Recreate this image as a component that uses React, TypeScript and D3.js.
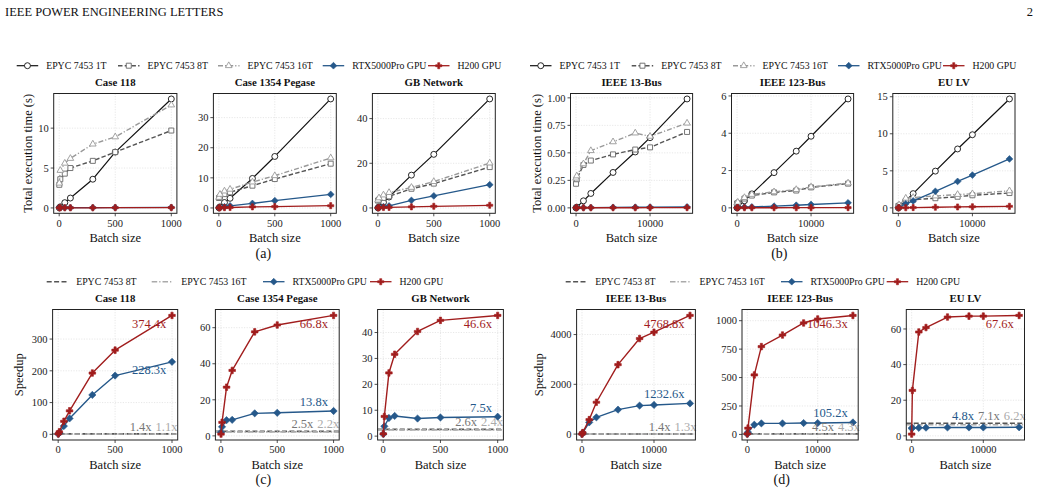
import React, { useRef, useEffect } from "react";
import * as d3 from "d3";

// batch sizes
const batchesTx = [1, 10, 50, 100, 300, 500, 1000];
const batchesDist = [1, 100, 1000, 2000, 5000, 8000, 10000, 15000];

const txTicks = [0, 500, 1000];
const distTicks = [0, 10000];

// total execution time (s): transmission cases
const case118Cpu1T = [0.015, 0.14, 0.66, 1.24, 3.6, 7.0, 13.66];
const case118Cpu8T = [2.9, 3.6, 4.3, 5.0, 5.9, 7.0, 9.7];
const case118Cpu16T = [3.1, 4.7, 5.6, 6.2, 8.0, 8.9, 12.9];
const case118Rtx = [0.02, 0.03, 0.03, 0.03, 0.04, 0.05, 0.06];
const case118H200 = [0.01, 0.02, 0.02, 0.02, 0.02, 0.03, 0.04];

const pegaseCpu1T = [0.04, 0.36, 1.8, 3.2, 9.8, 17.1, 36.2];
const pegaseCpu8T = [3.3, 3.6, 4.6, 5.2, 7.4, 9.6, 14.7];
const pegaseCpu16T = [3.5, 4.5, 5.6, 6.2, 8.6, 10.7, 16.6];
const pegaseRtx = [0.05, 0.1, 0.4, 0.7, 1.5, 2.4, 4.5];
const pegaseH200 = [0.03, 0.05, 0.1, 0.15, 0.35, 0.45, 0.75];

const gbCpu1T = [0.05, 0.5, 2.5, 4.9, 14.7, 24.0, 48.8];
const gbCpu8T = [3.3, 3.7, 4.5, 5.2, 8.6, 10.9, 18.3];
const gbCpu16T = [3.5, 4.5, 5.8, 6.9, 9.2, 11.8, 20.1];
const gbRtx = [0.05, 0.2, 0.6, 0.9, 3.4, 5.4, 10.4];
const gbH200 = [0.05, 0.1, 0.2, 0.25, 0.5, 0.75, 1.2];

// total execution time (s): distribution feeders
const bus13Cpu1T = [0.0001, 0.0066, 0.064, 0.131, 0.322, 0.508, 0.638, 0.99];
const bus13Cpu8T = [0.219, 0.26, 0.39, 0.43, 0.486, 0.53, 0.55, 0.69];
const bus13Cpu16T = [0.27, 0.29, 0.4, 0.52, 0.6, 0.68, 0.65, 0.77];
const bus13Rtx = [0.002, 0.002, 0.003, 0.003, 0.005, 0.006, 0.007, 0.009];
const bus13H200 = [0.001, 0.001, 0.001, 0.001, 0.001, 0.001, 0.002, 0.002];

const bus123Cpu1T = [0.0004, 0.04, 0.38, 0.75, 1.89, 3.04, 3.84, 5.84];
const bus123Cpu8T = [0.23, 0.26, 0.5, 0.66, 0.83, 0.93, 1.1, 1.3];
const bus123Cpu16T = [0.27, 0.3, 0.55, 0.72, 0.86, 0.98, 1.12, 1.33];
const bus123Rtx = [0.01, 0.02, 0.04, 0.05, 0.09, 0.14, 0.18, 0.27];
const bus123H200 = [0.004, 0.005, 0.006, 0.006, 0.007, 0.008, 0.009, 0.012];

const euLvCpu1T = [0.001, 0.1, 0.97, 1.92, 4.96, 7.95, 9.87, 14.7];
const euLvCpu8T = [0.25, 0.3, 0.9, 1.1, 1.3, 1.5, 1.7, 2.0];
const euLvCpu16T = [0.3, 0.4, 1.3, 1.4, 1.6, 1.8, 1.9, 2.3];
const euLvRtx = [0.01, 0.05, 0.55, 0.94, 2.23, 3.57, 4.42, 6.6];
const euLvH200 = [0.005, 0.01, 0.02, 0.04, 0.08, 0.12, 0.15, 0.21];

// speedup over EPYC 7453 1T
const case118SpRtx = [0.8, 5, 26, 50, 124, 185, 228.3];
const case118SpH200 = [1.5, 8, 41, 74, 193, 265, 374.4];
const case118SpCpu = [1.4, 1.1]; // 8T, 16T at largest batch

const pegaseSpRtx = [2.0, 5.0, 8.7, 8.9, 12.5, 12.8, 13.8];
const pegaseSpH200 = [1.0, 7.5, 27, 36.3, 57.7, 61.5, 66.8];
const pegaseSpCpu = [2.5, 2.2];

const gbSpRtx = [0.8, 3.8, 7.0, 7.8, 6.8, 7.2, 7.5];
const gbSpH200 = [0.9, 7.6, 24.4, 31.6, 40.4, 44.7, 46.6];
const gbSpCpu = [2.6, 2.4];

const bus13SpRtx = [1, 50, 470, 673, 983, 1145, 1172, 1232.6];
const bus13SpH200 = [1, 60, 580, 1280, 2790, 3840, 4094, 4768.8];
const bus13SpCpu = [1.4, 1.3];

const bus123SpRtx = [3, 20, 85, 97, 97, 100, 100, 105.2];
const bus123SpH200 = [5, 55, 523, 772, 874, 980, 1015, 1046.3];
const bus123SpCpu = [4.5, 4.3];

const euLvSpRtx = [4.2, 4.5, 4.5, 4.6, 4.7, 4.7, 4.7, 4.8];
const euLvSpH200 = [1, 25.5, 58.3, 60.8, 66.7, 67.2, 67.2, 67.6];
const euLvSpCpu = [7.1, 6.2];

const seriesNames = ["EPYC 7453 1T", "EPYC 7453 8T", "EPYC 7453 16T", "RTX5000Pro GPU", "H200 GPU"];

const FONT = "'Liberation Serif', 'Times New Roman', serif";
const BLUE = "#25588a";
const RED = "#a11d1d";

type Style = {
  color: string;
  width: number;
  dash: string | null;
  marker: string | null;
  hollow: boolean;
  edge: string;
};

const lineStyles: Style[] = [
  { color: "#111", width: 1.2, dash: null, marker: "circle", hollow: true, edge: "#111" },
  { color: "#555", width: 1.4, dash: "4.5,2.2", marker: "square", hollow: true, edge: "#666" },
  { color: "#999", width: 1.4, dash: "5,2,1.2,2", marker: "triangle", hollow: true, edge: "#999" },
  { color: BLUE, width: 1.3, dash: null, marker: "diamond", hollow: false, edge: BLUE },
  { color: RED, width: 1.3, dash: null, marker: "plus", hollow: false, edge: RED },
];

const refStyles: Style[] = [
  { color: "#555", width: 1.6, dash: "5,2.4", marker: null, hollow: false, edge: "#555" },
  { color: "#aaa", width: 1.6, dash: "5.5,2,1.3,2", marker: null, hollow: false, edge: "#aaa" },
];

const markerPath = (kind: string, big: boolean) => {
  const k = big ? 1.15 : 1;
  switch (kind) {
    case "circle":
      return d3.symbol(d3.symbolCircle, 28 * k)()!;
    case "square":
      return d3.symbol(d3.symbolSquare, 25 * k)()!;
    case "triangle":
      return d3.symbol(d3.symbolTriangle, 19 * k)()!;
    case "diamond": {
      const h = 3.4 * Math.sqrt(k);
      return `M0,${-h}L${h},0L0,${h}L${-h},0Z`;
    }
    default:
      return d3.symbol(d3.symbolCross, 21 * k)()!;
  }
};

type Panel = {
  title: string;
  x: number[];
  xTicks: number[];
  yTicks: number[];
  yFmt: (v: number) => string;
  left: number;
  right: number;
  series?: number[][];
  speedup?: { rtx: number[]; h200: number[]; cpu: number[] };
};

const intFmt = (v: number) => String(v);

const timePanels: Panel[] = [
  { title: "Case 118", x: batchesTx, xTicks: txTicks, yTicks: [0, 5, 10], yFmt: intFmt, left: 53.7, right: 176.9,
    series: [case118Cpu1T, case118Cpu8T, case118Cpu16T, case118Rtx, case118H200] },
  { title: "Case 1354 Pegase", x: batchesTx, xTicks: txTicks, yTicks: [0, 10, 20, 30], yFmt: intFmt, left: 213.4, right: 336.3,
    series: [pegaseCpu1T, pegaseCpu8T, pegaseCpu16T, pegaseRtx, pegaseH200] },
  { title: "GB Network", x: batchesTx, xTicks: txTicks, yTicks: [0, 20, 40], yFmt: intFmt, left: 372.4, right: 495.3,
    series: [gbCpu1T, gbCpu8T, gbCpu16T, gbRtx, gbH200] },
  { title: "IEEE 13-Bus", x: batchesDist, xTicks: distTicks, yTicks: [0, 0.25, 0.5, 0.75, 1.0], yFmt: d3.format(".2f"), left: 570.5, right: 692.6,
    series: [bus13Cpu1T, bus13Cpu8T, bus13Cpu16T, bus13Rtx, bus13H200] },
  { title: "IEEE 123-Bus", x: batchesDist, xTicks: distTicks, yTicks: [0, 2, 4, 6], yFmt: intFmt, left: 731.5, right: 853.6,
    series: [bus123Cpu1T, bus123Cpu8T, bus123Cpu16T, bus123Rtx, bus123H200] },
  { title: "EU LV", x: batchesDist, xTicks: distTicks, yTicks: [0, 5, 10, 15], yFmt: intFmt, left: 892.8, right: 1015,
    series: [euLvCpu1T, euLvCpu8T, euLvCpu16T, euLvRtx, euLvH200] },
];

const speedPanels: Panel[] = [
  { title: "Case 118", x: batchesTx, xTicks: txTicks, yTicks: [0, 100, 200, 300], yFmt: intFmt, left: 52.6, right: 177.7,
    speedup: { rtx: case118SpRtx, h200: case118SpH200, cpu: case118SpCpu } },
  { title: "Case 1354 Pegase", x: batchesTx, xTicks: txTicks, yTicks: [0, 20, 40, 60], yFmt: intFmt, left: 215.4, right: 339.2,
    speedup: { rtx: pegaseSpRtx, h200: pegaseSpH200, cpu: pegaseSpCpu } },
  { title: "GB Network", x: batchesTx, xTicks: txTicks, yTicks: [0, 10, 20, 30, 40], yFmt: intFmt, left: 377.6, right: 503.4,
    speedup: { rtx: gbSpRtx, h200: gbSpH200, cpu: gbSpCpu } },
  { title: "IEEE 13-Bus", x: batchesDist, xTicks: distTicks, yTicks: [0, 2000, 4000], yFmt: intFmt, left: 576.6, right: 695.4,
    speedup: { rtx: bus13SpRtx, h200: bus13SpH200, cpu: bus13SpCpu } },
  { title: "IEEE 123-Bus", x: batchesDist, xTicks: distTicks, yTicks: [0, 250, 500, 750, 1000], yFmt: intFmt, left: 742, right: 858.2,
    speedup: { rtx: bus123SpRtx, h200: bus123SpH200, cpu: bus123SpCpu } },
  { title: "EU LV", x: batchesDist, xTicks: distTicks, yTicks: [0, 20, 40, 60], yFmt: intFmt, left: 906.3, right: 1024.5,
    speedup: { rtx: euLvSpRtx, h200: euLvSpH200, cpu: euLvSpCpu } },
];

const padded = (lo: number, hi: number) => {
  const m = (hi - lo) * 0.05;
  return [lo - m, hi + m];
};

export default function App() {
  const ref = useRef<SVGSVGElement>(null);

  useEffect(() => {
    document.body.style.margin = "0";
    const svg = d3.select(ref.current);
    svg.selectAll("*").remove();
    svg.append("rect").attr("width", 1041).attr("height", 489).attr("fill", "#fff");

    const text = (g: any, x: number, y: number, s: string, size: number, opts: any = {}) =>
      g.append("text")
        .attr("x", x).attr("y", y)
        .attr("font-family", FONT)
        .attr("font-size", size)
        .attr("font-weight", opts.bold ? "bold" : "normal")
        .attr("text-anchor", opts.anchor || "start")
        .attr("fill", opts.fill || "#111")
        .text(s);

    // page header
    text(svg, 5, 16, "IEEE POWER ENGINEERING LETTERS", 12.5);
    text(svg, 1033, 16, "2", 12.5, { anchor: "end" });

    const drawMarkers = (g: any, pts: [number, number][], st: Style, big: boolean) => {
      if (!st.marker) return;
      const p = markerPath(st.marker, big);
      g.selectAll(null)
        .data(pts)
        .enter()
        .append("path")
        .attr("d", p)
        .attr("transform", (d: [number, number]) => `translate(${d[0]},${d[1]})`)
        .attr("fill", st.hollow ? "#fff" : st.color)
        .attr("stroke", st.edge)
        .attr("stroke-width", st.hollow ? 0.9 : 0.6);
    };

    const drawLegend = (y: number, starts: number[], idx: number[], styles: Style[]) => {
      const g = svg.append("g");
      starts.forEach((x0, i) => {
        const st = styles[i];
        const ln = g.append("line")
          .attr("x1", x0).attr("x2", x0 + 21.5)
          .attr("y1", y).attr("y2", y)
          .attr("stroke", st.color)
          .attr("stroke-width", st.width);
        if (st.dash) ln.attr("stroke-dasharray", st.dash);
        drawMarkers(g, [[x0 + 10.75, y]], st, false);
        text(g, x0 + 29.5, y + 3.4, seriesNames[idx[i]], 9.8);
      });
    };

    const drawPanel = (p: Panel, top: number, bottom: number, yLabel: string | null, ylx: number) => {
      const g = svg.append("g");
      const xmax = d3.max(p.x)!;
      const xScale = d3.scaleLinear().domain(padded(d3.min(p.x)!, xmax)).range([p.left, p.right]);

      let all: number[] = [];
      if (p.series) p.series.forEach((s) => (all = all.concat(s)));
      if (p.speedup) all = all.concat(p.speedup.rtx, p.speedup.h200, p.speedup.cpu);
      const yScale = d3.scaleLinear().domain(padded(d3.min(all)!, d3.max(all)!)).range([bottom, top]);

      // grid
      const grid = g.append("g").attr("stroke", "#d6d6d6").attr("stroke-width", 0.6).attr("stroke-dasharray", "1.2,1.4");
      p.xTicks.forEach((t) => grid.append("line").attr("x1", xScale(t)).attr("x2", xScale(t)).attr("y1", top).attr("y2", bottom));
      p.yTicks.forEach((t) => grid.append("line").attr("x1", p.left).attr("x2", p.right).attr("y1", yScale(t)).attr("y2", yScale(t)));

      const marks = g.append("g");
      const line = d3.line<number>().x((_, i) => xScale(p.x[i])).y((d) => yScale(d));

      if (p.series) {
        p.series.forEach((vals, si) => {
          const st = lineStyles[si];
          const path = marks.append("path")
            .attr("d", line(vals))
            .attr("fill", "none")
            .attr("stroke", st.color)
            .attr("stroke-width", st.width)
            .attr("stroke-linejoin", "round");
          if (st.dash) path.attr("stroke-dasharray", st.dash);
          drawMarkers(marks, vals.map((v, i) => [xScale(p.x[i]), yScale(v)] as [number, number]), st, false);
        });
      }

      if (p.speedup) {
        const sp = p.speedup;
        // CPU thread speedups at the largest batch as reference lines
        sp.cpu.forEach((v, i) => {
          const st = refStyles[i];
          marks.append("line")
            .attr("x1", p.left).attr("x2", p.right)
            .attr("y1", yScale(v)).attr("y2", yScale(v))
            .attr("stroke", st.color)
            .attr("stroke-width", st.width)
            .attr("stroke-dasharray", st.dash!);
        });
        [sp.rtx, sp.h200].forEach((vals, k) => {
          const st = lineStyles[3 + k];
          marks.append("path")
            .attr("d", line(vals))
            .attr("fill", "none")
            .attr("stroke", st.color)
            .attr("stroke-width", 1.4)
            .attr("stroke-linejoin", "round");
          drawMarkers(marks, vals.map((v, i) => [xScale(p.x[i]), yScale(v)] as [number, number]), st, true);
        });

        const last = (a: number[]) => a[a.length - 1];
        const rtxLast = last(sp.rtx);
        const h200Last = last(sp.h200);
        const cpuTop = Math.max(sp.cpu[0], sp.cpu[1]);
        const lx = xScale(0.95 * xmax);
        const labelSize = 12.5;

        text(g, lx, yScale(h200Last) + 12.5, `${h200Last.toFixed(1)}x`, labelSize, { anchor: "end", fill: RED });

        const rowY = yScale(cpuTop) - 3;
        const x8 = xScale(0.82 * xmax);
        const t8 = text(g, x8, rowY, `${sp.cpu[0].toFixed(1)}x`, labelSize, { anchor: "end", fill: "#777" });
        text(g, x8 + 4, rowY, `${sp.cpu[1].toFixed(1)}x`, labelSize, { fill: "#aaa" });

        if (rtxLast < cpuTop * 1.5) {
          const w8 = (t8.node() as SVGTextElement).getComputedTextLength();
          text(g, x8 - w8 - 4, rowY, `${rtxLast.toFixed(1)}x`, labelSize, { anchor: "end", fill: BLUE });
        } else if (rtxLast > 0.5 * h200Last) {
          text(g, lx, yScale(rtxLast) + 12, `${rtxLast.toFixed(1)}x`, labelSize, { anchor: "end", fill: BLUE });
        } else {
          text(g, lx, yScale(rtxLast) - 5, `${rtxLast.toFixed(1)}x`, labelSize, { anchor: "end", fill: BLUE });
        }
      }

      // frame
      g.append("rect")
        .attr("x", p.left).attr("y", top)
        .attr("width", p.right - p.left).attr("height", bottom - top)
        .attr("fill", "none")
        .attr("stroke", "#222")
        .attr("stroke-width", 1);

      // ticks and labels
      const tk = g.append("g").attr("stroke", "#222").attr("stroke-width", 0.8);
      p.xTicks.forEach((t) => {
        tk.append("line").attr("x1", xScale(t)).attr("x2", xScale(t)).attr("y1", bottom).attr("y2", bottom + 3);
        text(g, xScale(t), bottom + 13.3, String(t), 10.5, { anchor: "middle", fill: "#222" });
      });
      p.yTicks.forEach((t) => {
        tk.append("line").attr("x1", p.left - 3).attr("x2", p.left).attr("y1", yScale(t)).attr("y2", yScale(t));
        text(g, p.left - 5, yScale(t) + 3.7, p.yFmt(t), 10.5, { anchor: "end", fill: "#222" });
      });

      const cx = (p.left + p.right) / 2;
      text(g, cx, top - 7.5, p.title, 10.8, { anchor: "middle", bold: true });
      text(g, cx, bottom + 28.8, "Batch size", 12.5, { anchor: "middle" });

      if (yLabel) {
        g.append("text")
          .attr("transform", `translate(${ylx},${(top + bottom) / 2}) rotate(-90)`)
          .attr("font-family", FONT)
          .attr("font-size", 12.5)
          .attr("text-anchor", "middle")
          .attr("fill", "#111")
          .text(yLabel);
      }
    };

    const topY = [93.5, 213.3];
    const botY = [309.5, 440];

    timePanels.forEach((p, i) =>
      drawPanel(p, topY[0], topY[1], i % 3 === 0 ? "Total execution time (s)" : null, i === 0 ? 32.4 : 541)
    );
    speedPanels.forEach((p, i) =>
      drawPanel(p, botY[0], botY[1], i % 3 === 0 ? "Speedup" : null, i === 0 ? 22.7 : 542.7)
    );

    drawLegend(65.7, [16.7, 118, 218, 322.7, 428], [0, 1, 2, 3, 4], lineStyles);
    drawLegend(65.7, [530, 631.7, 733, 838, 943], [0, 1, 2, 3, 4], lineStyles);
    drawLegend(281.7, [46.7, 151.7, 263, 370], [1, 2, 3, 4], [refStyles[0], refStyles[1], lineStyles[3], lineStyles[4]]);
    drawLegend(281.7, [565.7, 670, 781, 886.7], [1, 2, 3, 4], [refStyles[0], refStyles[1], lineStyles[3], lineStyles[4]]);

    // sub-figure captions
    text(svg, 263.3, 257.5, "(a)", 14, { anchor: "middle" });
    text(svg, 779.3, 257.5, "(b)", 14, { anchor: "middle" });
    text(svg, 263.3, 483.8, "(c)", 14, { anchor: "middle" });
    text(svg, 781.7, 483.8, "(d)", 14, { anchor: "middle" });
  }, []);

  return <svg ref={ref} width={1041} height={489} style={{ display: "block" }} />;
}
